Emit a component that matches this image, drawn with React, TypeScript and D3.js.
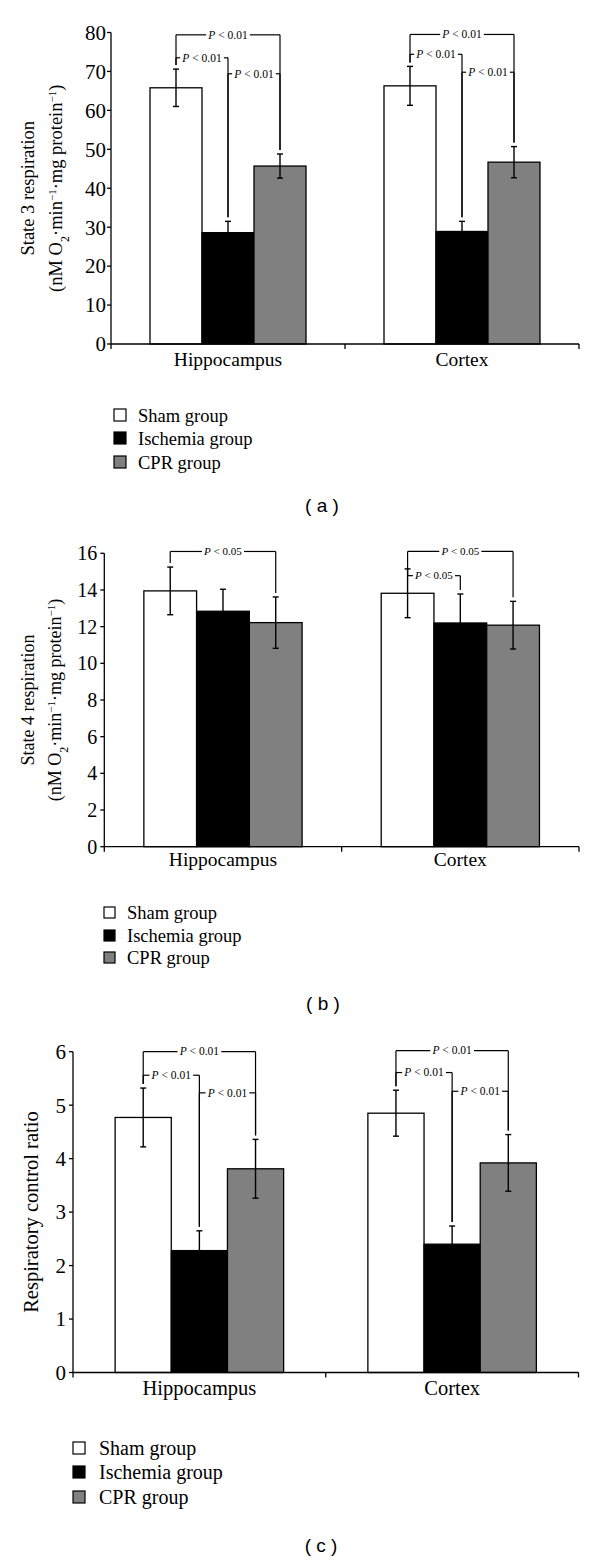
import React from 'react';
import * as d3 from 'd3';

// ---------- DATA ----------
const regions = ['Hippocampus', 'Cortex'];
const groups = ['Sham group', 'Ischemia group', 'CPR group'];
const groupColors = ['#ffffff', '#000000', '#808080'];

// (a) State 3 respiration
const state3Mean = [[65.8, 28.6, 45.7], [66.3, 28.9, 46.7]];
const state3Err = [[4.8, 2.9, 3.1], [5.0, 2.6, 4.0]];
const state3Ticks = [0, 10, 20, 30, 40, 50, 60, 70, 80];
const state3Brackets = [
  { region: 0, from: 0, to: 2, level: 79.4, label: '0.01' },
  { region: 0, from: 0, to: 1, level: 73.5, label: '0.01' },
  { region: 0, from: 1, to: 2, level: 69.4, label: '0.01' },
  { region: 1, from: 0, to: 2, level: 79.5, label: '0.01' },
  { region: 1, from: 0, to: 1, level: 74.4, label: '0.01' },
  { region: 1, from: 1, to: 2, level: 69.8, label: '0.01' },
];

// (b) State 4 respiration
const state4Mean = [[13.95, 12.84, 12.22], [13.82, 12.2, 12.08]];
const state4Err = [[1.3, 1.2, 1.4], [1.33, 1.58, 1.3]];
const state4Ticks = [0, 2, 4, 6, 8, 10, 12, 14, 16];
const state4Brackets = [
  { region: 0, from: 0, to: 2, level: 16.1, label: '0.05' },
  { region: 1, from: 0, to: 2, level: 16.1, label: '0.05' },
  { region: 1, from: 0, to: 1, level: 14.78, label: '0.05' },
];

// (c) Respiratory control ratio
const rcrMean = [[4.77, 2.28, 3.81], [4.85, 2.40, 3.92]];
const rcrErr = [[0.55, 0.37, 0.55], [0.43, 0.34, 0.53]];
const rcrTicks = [0, 1, 2, 3, 4, 5, 6];
const rcrBrackets = [
  { region: 0, from: 0, to: 2, level: 6.0, label: '0.01' },
  { region: 0, from: 0, to: 1, level: 5.56, label: '0.01' },
  { region: 0, from: 1, to: 2, level: 5.23, label: '0.01' },
  { region: 1, from: 0, to: 2, level: 6.02, label: '0.01' },
  { region: 1, from: 0, to: 1, level: 5.61, label: '0.01' },
  { region: 1, from: 1, to: 2, level: 5.26, label: '0.01' },
];

const SERIF = '"Liberation Serif", "Times New Roman", serif';
const SANS = '"Liberation Sans", Arial, sans-serif';

type Bracket = { region: number; from: number; to: number; level: number; label: string };

type PanelProps = {
  means: number[][];
  errs: number[][];
  ticks: number[];
  brackets: Bracket[];
  yMax: number;
  layout: any;
  title: React.ReactNode[];
  panelLabel: string;
};

function Panel({ means, errs, ticks, brackets, yMax, layout, title, panelLabel }: PanelProps) {
  const L = layout;
  const y = d3.scaleLinear().domain([0, yMax]).range([L.yBottom, L.yTop]);
  const x = d3.scaleBand<string>().domain(regions).range([L.x0, L.x1]).paddingInner(0).paddingOuter(0);
  const bw = x.bandwidth();
  const xs = d3.scaleBand<string>().domain(groups).range([bw / 6, (bw * 5) / 6]).padding(0);
  const barW = xs.bandwidth();
  const cx = (r: number, g: number) => (x(regions[r]) as number) + (xs(groups[g]) as number) + barW / 2;
  const sw = 1.3;
  const bfs = L.bracketFont;
  const labelW = bfs * 3.37;

  return (
    <g>
      {/* bars */}
      {regions.map((reg, ri) =>
        groups.map((grp, gi) => (
          <rect
            key={reg + grp}
            x={(x(reg) as number) + (xs(grp) as number)}
            y={y(means[ri][gi])}
            width={barW}
            height={y(0) - y(means[ri][gi])}
            fill={groupColors[gi]}
            stroke="#000"
            strokeWidth={sw}
          />
        ))
      )}
      {/* error bars */}
      {regions.map((reg, ri) =>
        groups.map((grp, gi) => {
          const c = cx(ri, gi);
          const hi = y(means[ri][gi] + errs[ri][gi]);
          const lo = y(means[ri][gi] - errs[ri][gi]);
          return (
            <g key={'e' + reg + grp} stroke="#000" strokeWidth={1.4}>
              <line x1={c} x2={c} y1={hi} y2={lo} />
              <line x1={c - 3} x2={c + 3} y1={hi} y2={hi} />
              <line x1={c - 3} x2={c + 3} y1={lo} y2={lo} />
            </g>
          );
        })
      )}
      {/* significance brackets */}
      {brackets.map((b, i) => {
        const xa = cx(b.region, b.from);
        const xb = cx(b.region, b.to);
        const yl = y(b.level);
        const ya = y(means[b.region][b.from] + errs[b.region][b.from]) - 4;
        const yb = y(means[b.region][b.to] + errs[b.region][b.to]) - 4;
        const mid = (xa + xb) / 2;
        const gap = labelW + 5;
        return (
          <g key={'b' + i}>
            <g stroke="#000" strokeWidth={1.2} fill="none">
              <line x1={xa} x2={xa} y1={yl} y2={ya} />
              <line x1={xb} x2={xb} y1={yl} y2={yb} />
              <line x1={xa} x2={mid - gap / 2} y1={yl} y2={yl} />
              <line x1={mid + gap / 2} x2={xb} y1={yl} y2={yl} />
            </g>
            <text x={mid} y={yl + bfs * 0.33} textAnchor="middle" fontFamily={SERIF} fontSize={bfs} fill="#000">
              <tspan fontStyle="italic">P</tspan> {'<'} {b.label}
            </text>
          </g>
        );
      })}
      {/* y axis */}
      <line x1={L.x0} x2={L.x0} y1={y(0)} y2={y(yMax)} stroke="#000" strokeWidth={sw} />
      {ticks.map((t) => (
        <g key={'t' + t}>
          <line x1={L.x0 - 4} x2={L.x0} y1={y(t)} y2={y(t)} stroke="#000" strokeWidth={sw} />
          <text
            x={L.x0 - L.tickGap}
            y={y(t)}
            dy="0.35em"
            textAnchor="end"
            fontFamily={SERIF}
            fontSize={L.tickFont}
            fill="#000"
          >
            {t}
          </text>
        </g>
      ))}
      {/* x axis */}
      <line x1={L.x0} x2={L.x1} y1={y(0)} y2={y(0)} stroke="#000" strokeWidth={sw} />
      {[0, 1, 2].map((k) => {
        const xx = L.x0 + k * bw;
        return <line key={'xt' + k} x1={xx} x2={xx} y1={y(0)} y2={y(0) + 5} stroke="#000" strokeWidth={sw} />;
      })}
      {regions.map((reg) => (
        <text
          key={'xl' + reg}
          x={(x(reg) as number) + bw / 2}
          y={y(0) + L.catGap}
          textAnchor="middle"
          fontFamily={SERIF}
          fontSize={L.catFont}
          fill="#000"
        >
          {reg}
        </text>
      ))}
      {/* y title */}
      {title.map((t, i) => (
        <text
          key={'yt' + i}
          transform={`translate(${L.titleX[i]},${(L.yBottom + L.yTop) / 2}) rotate(-90)`}
          textAnchor="middle"
          fontFamily={SERIF}
          fontSize={L.titleFont}
          fill="#000"
        >
          {t}
        </text>
      ))}
      {/* legend */}
      {groups.map((g, i) => (
        <g key={'lg' + g}>
          <rect
            x={L.legX}
            y={L.legY[i]}
            width={L.legSq}
            height={L.legSq}
            fill={groupColors[i]}
            stroke="#000"
            strokeWidth={1.2}
          />
          <text x={L.legTextX} y={L.legY[i] + L.legSq + 0.5} fontFamily={SERIF} fontSize={L.legFont} fill="#000">
            {g}
          </text>
        </g>
      ))}
      {/* panel label */}
      <text x={L.labelX} y={L.labelY} textAnchor="middle" fontFamily={SANS} fontSize={19} fill="#000">
        {panelLabel}
      </text>
    </g>
  );
}

const respTitle = (n: string) => [
  <tspan key="a">{`State ${n} respiration`}</tspan>,
  <tspan key="b">
    (nM O<tspan baselineShift="sub" fontSize="12">2</tspan>
    {'\u00b7min'}
    <tspan baselineShift="super" fontSize="11">{'\u22121'}</tspan>
    {'\u00b7mg protein'}
    <tspan baselineShift="super" fontSize="11">{'\u22121'}</tspan>)
  </tspan>,
];

const layoutA = {
  x0: 111, x1: 579, yBottom: 344, yTop: 32.5,
  tickFont: 21, tickGap: 5, catFont: 19.5, catGap: 22,
  titleFont: 18.5, titleX: [33.5, 62],
  bracketFont: 11.5,
  legX: 114, legY: [409, 432, 456], legSq: 12, legTextX: 138, legFont: 18.5,
  labelX: 322, labelY: 512,
};
const layoutB = {
  x0: 104.3, x1: 579, yBottom: 846.7, yTop: 553.3,
  tickFont: 20, tickGap: 7, catFont: 19.5, catGap: 19.5,
  titleFont: 18, titleX: [33.5, 61],
  bracketFont: 11,
  legX: 104, legY: [907, 930, 952], legSq: 11, legTextX: 127, legFont: 18.5,
  labelX: 323, labelY: 1010,
};
const layoutC = {
  x0: 73, x1: 578.5, yBottom: 1372.5, yTop: 1051.7,
  tickFont: 21, tickGap: 7, catFont: 20.5, catGap: 22.5,
  titleFont: 20.5, titleX: [38],
  bracketFont: 11.5,
  legX: 73, legY: [1442, 1466, 1491], legSq: 12, legTextX: 99, legFont: 20,
  labelX: 321, labelY: 1552,
};

export default function App() {
  return (
    <svg
      width={600}
      height={1560}
      style={{ position: 'absolute', left: 0, top: 0, background: '#fff' }}
      xmlns="http://www.w3.org/2000/svg"
    >
      <rect x={0} y={0} width={600} height={1560} fill="#fff" />
      <Panel
        means={state3Mean}
        errs={state3Err}
        ticks={state3Ticks}
        brackets={state3Brackets}
        yMax={80}
        layout={layoutA}
        title={respTitle('3')}
        panelLabel="( a )"
      />
      <Panel
        means={state4Mean}
        errs={state4Err}
        ticks={state4Ticks}
        brackets={state4Brackets}
        yMax={16}
        layout={layoutB}
        title={respTitle('4')}
        panelLabel="( b )"
      />
      <Panel
        means={rcrMean}
        errs={rcrErr}
        ticks={rcrTicks}
        brackets={rcrBrackets}
        yMax={6}
        layout={layoutC}
        title={['Respiratory control ratio']}
        panelLabel="( c )"
      />
    </svg>
  );
}
